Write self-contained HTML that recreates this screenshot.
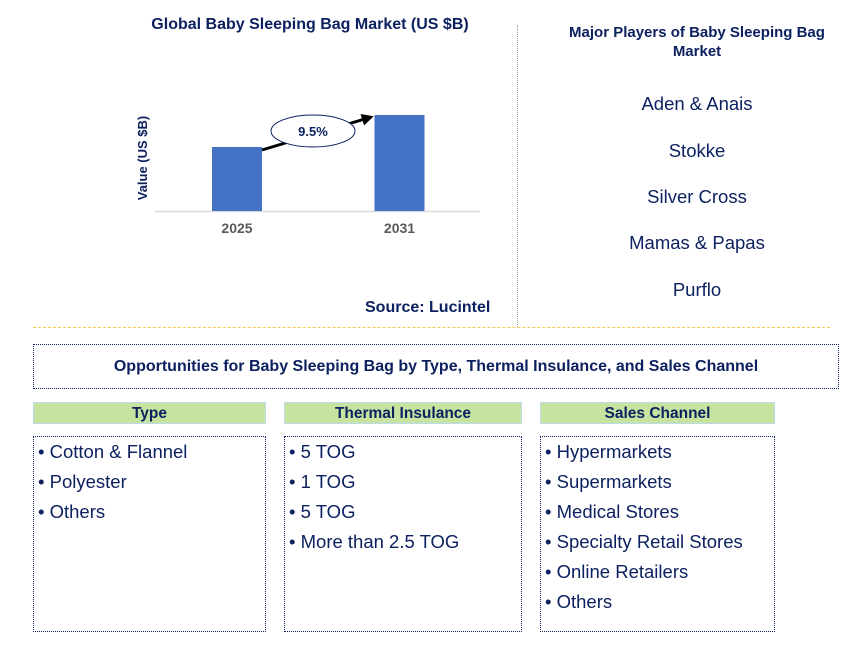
<!DOCTYPE html>
<html><head><meta charset="utf-8"><style>
body{margin:0;width:855px;height:651px;background:#fff;font-family:"Liberation Sans",Arial,sans-serif;position:relative;overflow:hidden}
.a{position:absolute}
.t{color:#0d2160;font-weight:bold}
.hd{position:absolute;background:#c6e4a0;border:1px solid #bcd9ee;height:22px;line-height:22px;text-align:center;font-size:15.5px;font-weight:bold;color:#0d2160;box-sizing:border-box}
.bx{position:absolute;border:1px dotted #0d2160;box-sizing:border-box;padding:0 0 0 4px;color:#0d2160;font-size:18.5px}
.bx div{height:30px;line-height:30px}
.pl{position:absolute;width:320px;left:537px;text-align:center;font-size:18.5px;color:#0d2160}
</style></head><body>
<div class="a t" style="left:100px;top:16px;width:420px;text-align:center;font-size:16px">Global Baby Sleeping Bag Market (US $B)</div>
<svg class="a" style="left:0;top:0" width="520" height="320">
<line x1="155" y1="211.5" x2="480" y2="211.5" stroke="#d9d9d9" stroke-width="1.5"/>
<text transform="translate(147,158) rotate(-90)" text-anchor="middle" font-size="13" font-weight="bold" fill="#0d2160" font-family="Liberation Sans">Value (US $B)</text>
<g id="bars"></g>
<defs><marker id="ah" markerWidth="4" markerHeight="4" refX="2" refY="2" orient="auto"><path d="M0,0L4,2L0,4z" fill="#000"/></marker></defs>
<line x1="262" y1="150" x2="368" y2="118" stroke="#000" stroke-width="3" marker-end="url(#ah)"/>
<ellipse cx="313" cy="131" rx="42" ry="16" fill="#fff" stroke="#0d2160"/>
<text x="313" y="136" text-anchor="middle" font-size="13" font-weight="bold" fill="#0d2160" font-family="Liberation Sans">9.5%</text>
</svg>
<script>
const categories=["2025","2031"];
const values=[1.0,1.5];
const centers=[237,399.5];
const base=211, pxPerUnit=64, bw=50;
const g=document.getElementById('bars');
const ns='http://www.w3.org/2000/svg';
function yScale(v){return base-v*pxPerUnit;}
categories.forEach((c,i)=>{
 const r=document.createElementNS(ns,'rect');
 r.setAttribute('x',centers[i]-bw/2);r.setAttribute('y',yScale(values[i]));
 r.setAttribute('width',bw);r.setAttribute('height',base-yScale(values[i]));
 r.setAttribute('fill','#4472c4');
 
 
 g.appendChild(r);
 const t=document.createElementNS(ns,'text');
 t.setAttribute('x',centers[i]);t.setAttribute('y',233);t.setAttribute('text-anchor','middle');
 t.setAttribute('font-size','14');t.setAttribute('font-weight','bold');t.setAttribute('fill','#595959');
 t.setAttribute('font-family','Liberation Sans');
 t.textContent=c;
 
 
 g.appendChild(t);
});
</script>
<div class="a t" style="left:365px;top:299px;font-size:16px">Source: Lucintel</div>
<div class="a" style="left:517px;top:25px;height:302px;border-left:1px dotted #999"></div>
<div class="a" style="left:33px;top:327px;width:797px;border-top:1px dashed #f2c94c"></div>
<div class="a t" style="left:550px;top:23px;width:294px;text-align:center;font-size:15px;line-height:19px">Major Players of Baby Sleeping Bag Market</div>
<div class="pl" style="top:93px">Aden &amp; Anais</div>
<div class="pl" style="top:140px">Stokke</div>
<div class="pl" style="top:186px">Silver Cross</div>
<div class="pl" style="top:232px">Mamas &amp; Papas</div>
<div class="pl" style="top:279px">Purflo</div>
<div class="a t" style="left:33px;top:344px;width:806px;height:45px;box-sizing:border-box;border:1px dotted #0d2160;text-align:center;line-height:43px;font-size:16px">Opportunities for Baby Sleeping Bag by Type, Thermal Insulance, and Sales Channel</div>
<div class="hd" style="left:33px;top:402px;width:233px">Type</div>
<div class="hd" style="left:284px;top:402px;width:238px">Thermal Insulance</div>
<div class="hd" style="left:540px;top:402px;width:235px">Sales Channel</div>
<div class="bx" style="left:33px;top:436px;width:233px;height:196px"><div>• Cotton &amp; Flannel</div><div>• Polyester</div><div>• Others</div></div>
<div class="bx" style="left:284px;top:436px;width:238px;height:196px"><div>• 5 TOG</div><div>• 1 TOG</div><div>• 5 TOG</div><div>• More than 2.5 TOG</div></div>
<div class="bx" style="left:540px;top:436px;width:235px;height:196px"><div>• Hypermarkets</div><div>• Supermarkets</div><div>• Medical Stores</div><div>• Specialty Retail Stores</div><div>• Online Retailers</div><div>• Others</div></div>
</body></html>
